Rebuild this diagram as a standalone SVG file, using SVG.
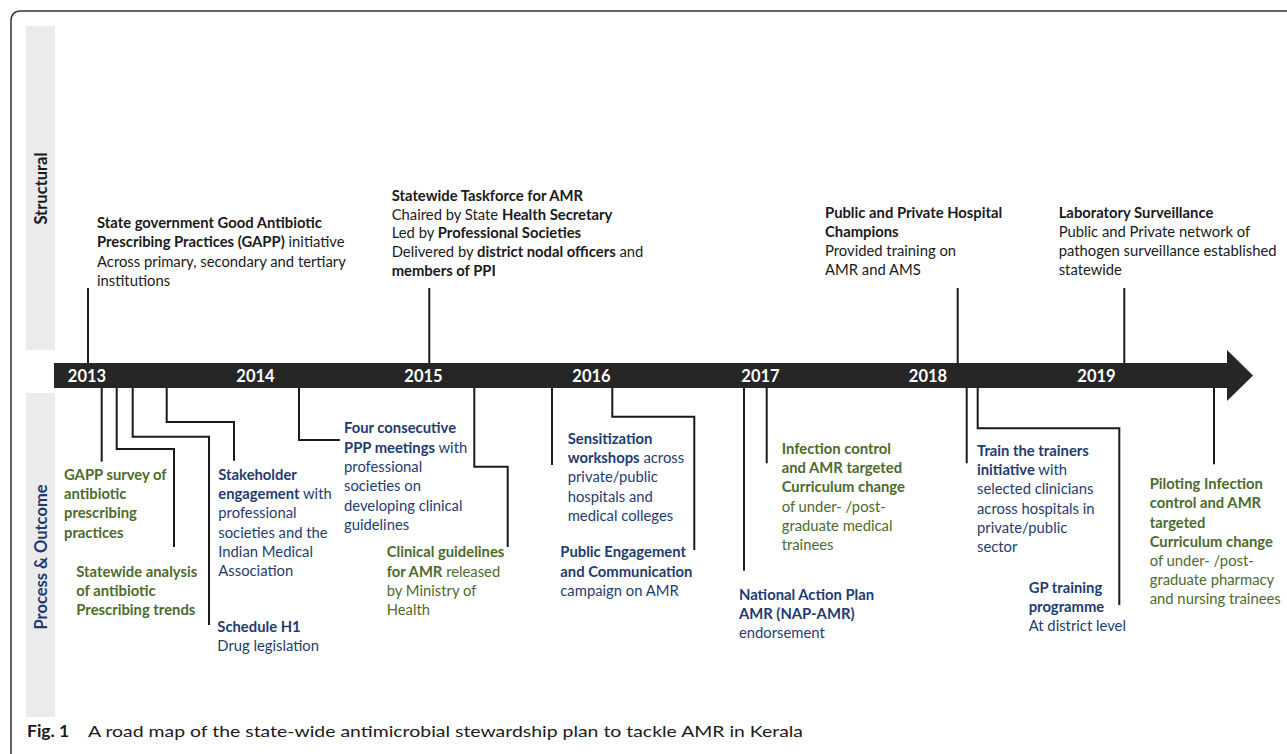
<svg xmlns="http://www.w3.org/2000/svg" width="1287" height="754" viewBox="0 0 1287 754">
<style>
text{font-family:Lato,"Liberation Sans",sans-serif;font-size:14.8px}
.k{fill:#1a1a1a}
.bl{fill:#1f3b73}
.gr{fill:#4d6b2b}
.b{font-weight:bold}
.yr{fill:#ffffff;font-weight:bold;font-size:16.5px;text-anchor:middle}
.side{font-weight:bold;font-size:16.5px;text-anchor:middle}
.conn path{fill:none;stroke:#1a1a1a;stroke-width:2}
.panel{fill:#ebebeb}
</style>
<rect width="1287" height="754" fill="#ffffff"/>
<path d="M11,754 L11,21 Q11,11 21,11 L1287,11" fill="none" stroke="#333333" stroke-width="1.5"/>
<g id="panels">
<rect class="panel" x="26" y="26" width="29" height="324"/>
<rect class="panel" x="26" y="393" width="29" height="324"/>
<text class="side k" transform="translate(46.5,188.5) rotate(-90)">Structural</text>
<text class="side bl" transform="translate(46.5,557) rotate(-90)">Process &amp; Outcome</text>
</g>
<g class="conn" id="connectors">
<path d="M88,288 V364"/>
<path d="M429.3,288 V364"/>
<path d="M957.7,288 V364"/>
<path d="M1124.3,288 V364"/>
<path d="M101.7,387 V461.7"/>
<path d="M116.7,387 V449 H174 V547"/>
<path d="M132.7,387 V436.7 H209 V625"/>
<path d="M166.7,387 V422 H234 V460.7"/>
<path d="M258,386 H299 V440 H340"/>
<path d="M474.3,387 V466.7 H507.7 V547"/>
<path d="M552,387 V465"/>
<path d="M612.3,380 V416.7 H694.3 V550"/>
<path d="M744,387 V570.7"/>
<path d="M766.7,387 V463.3"/>
<path d="M966.7,387 V463.3"/>
<path d="M977.7,387 V428.3 H1119.3 V605"/>
<path d="M1214,387 V464.3"/>
</g>
<g id="timeline">
<polygon points="54,363 1227,363 1227,350 1253,375.5 1227,401 1227,388 54,388" fill="#262626"/>
<text class="yr" x="87" y="381.5">2013</text>
<text class="yr" x="255.5" y="381.5">2014</text>
<text class="yr" x="423.5" y="381.5">2015</text>
<text class="yr" x="591.5" y="381.5">2016</text>
<text class="yr" x="760.5" y="381.5">2017</text>
<text class="yr" x="928" y="381.5">2018</text>
<text class="yr" x="1096.5" y="381.5">2019</text>
</g>
<g id="gapp-initiative">
<text class="k" x="97" y="228"><tspan class="b">State government Good Antibiotic</tspan><tspan x="97" dy="19.3" class="b">Prescribing Practices (GAPP)</tspan> initiative<tspan x="97" dy="19.3">Across primary, secondary and tertiary</tspan><tspan x="97" dy="19.3">institutions</tspan></text>
</g>
<g id="taskforce">
<text class="k" x="391.7" y="201"><tspan class="b">Statewide Taskforce for AMR</tspan><tspan x="391.7" dy="18.7">Chaired by State </tspan><tspan class="b">Health Secretary</tspan><tspan x="391.7" dy="18.7">Led by </tspan><tspan class="b">Professional Societies</tspan><tspan x="391.7" dy="18.7">Delivered by </tspan><tspan class="b">district nodal officers</tspan> and<tspan x="391.7" dy="18.7" class="b">members of PPI</tspan></text>
</g>
<g id="champions">
<text class="k" x="825" y="218"><tspan class="b">Public and Private Hospital</tspan><tspan x="825" dy="19.1" class="b">Champions</tspan><tspan x="825" dy="19.1">Provided training on</tspan><tspan x="825" dy="19.1">AMR and AMS</tspan></text>
</g>
<g id="lab-surveillance">
<text class="k" x="1058.7" y="218"><tspan class="b">Laboratory Surveillance</tspan><tspan x="1058.7" dy="19.1">Public and Private network  of</tspan><tspan x="1058.7" dy="19.1">pathogen surveillance established</tspan><tspan x="1058.7" dy="19.1">statewide</tspan></text>
</g>
<g id="gapp-survey">
<text class="gr b" x="64" y="480"><tspan>GAPP survey of</tspan><tspan x="64" dy="19.2">antibiotic</tspan><tspan x="64" dy="19.2">prescribing</tspan><tspan x="64" dy="19.2">practices</tspan></text>
</g>
<g id="statewide-analysis">
<text class="gr b" x="76.3" y="577"><tspan>Statewide analysis</tspan><tspan x="76.3" dy="19.2">of antibiotic</tspan><tspan x="76.3" dy="19.2">Prescribing trends</tspan></text>
</g>
<g id="stakeholder">
<text class="bl" x="218.3" y="480"><tspan class="b">Stakeholder</tspan><tspan x="218.3" dy="19.2" class="b">engagement</tspan> with<tspan x="218.3" dy="19.2">professional</tspan><tspan x="218.3" dy="19.2">societies and the</tspan><tspan x="218.3" dy="19.2">Indian Medical</tspan><tspan x="218.3" dy="19.2">Association</tspan></text>
</g>
<g id="schedule-h1">
<text class="bl" x="217.3" y="632"><tspan class="b">Schedule H1</tspan><tspan x="217.3" dy="19.3">Drug legislation</tspan></text>
</g>
<g id="ppp-meetings">
<text class="bl" x="344" y="433.3"><tspan class="b">Four consecutive</tspan><tspan x="344" dy="19.3" class="b">PPP meetings</tspan> with<tspan x="344" dy="19.3">professional</tspan><tspan x="344" dy="19.3">societies on</tspan><tspan x="344" dy="19.3">developing clinical</tspan><tspan x="344" dy="19.3">guidelines</tspan></text>
</g>
<g id="clinical-guidelines">
<text class="gr" x="386.7" y="557.3"><tspan class="b">Clinical guidelines</tspan><tspan x="386.7" dy="19.2" class="b">for AMR</tspan> released<tspan x="386.7" dy="19.2">by Ministry of</tspan><tspan x="386.7" dy="19.2">Health</tspan></text>
</g>
<g id="sensitization">
<text class="bl" x="567.7" y="444"><tspan class="b">Sensitization</tspan><tspan x="567.7" dy="19.2" class="b">workshops</tspan> across<tspan x="567.7" dy="19.2">private/public</tspan><tspan x="567.7" dy="19.2">hospitals and</tspan><tspan x="567.7" dy="19.2">medical colleges</tspan></text>
</g>
<g id="public-engagement">
<text class="bl" x="560.3" y="557.3"><tspan class="b">Public Engagement</tspan><tspan x="560.3" dy="19.4" class="b">and Communication</tspan><tspan x="560.3" dy="19.4">campaign on AMR</tspan></text>
</g>
<g id="infection-control">
<text class="gr" x="781.7" y="454"><tspan class="b">Infection control</tspan><tspan x="781.7" dy="19.2" class="b">and AMR targeted</tspan><tspan x="781.7" dy="19.2" class="b">Curriculum change</tspan><tspan x="781.7" dy="19.2">of under- /post-</tspan><tspan x="781.7" dy="19.2">graduate medical</tspan><tspan x="781.7" dy="19.2">trainees</tspan></text>
</g>
<g id="nap-amr">
<text class="bl" x="739" y="600"><tspan class="b">National Action Plan</tspan><tspan x="739" dy="19.2" class="b">AMR (NAP-AMR)</tspan><tspan x="739" dy="19.2">endorsement</tspan></text>
</g>
<g id="train-trainers">
<text class="bl" x="977" y="456"><tspan class="b">Train the trainers</tspan><tspan x="977" dy="19.2" class="b">initiative</tspan> with<tspan x="977" dy="19.2">selected clinicians</tspan><tspan x="977" dy="19.2">across hospitals in</tspan><tspan x="977" dy="19.2">private/public</tspan><tspan x="977" dy="19.2">sector</tspan></text>
</g>
<g id="gp-training">
<text class="bl" x="1028.7" y="593.3"><tspan class="b">GP training</tspan><tspan x="1028.7" dy="18.9" class="b">programme</tspan><tspan x="1028.7" dy="18.9">At district level</tspan></text>
</g>
<g id="piloting">
<text class="gr" x="1149.7" y="489.3"><tspan class="b">Piloting Infection</tspan><tspan x="1149.7" dy="19.1" class="b">control and AMR</tspan><tspan x="1149.7" dy="19.1" class="b">targeted</tspan><tspan x="1149.7" dy="19.1" class="b">Curriculum change</tspan><tspan x="1149.7" dy="19.1">of under- /post-</tspan><tspan x="1149.7" dy="19.1">graduate pharmacy</tspan><tspan x="1149.7" dy="19.1">and nursing trainees</tspan></text>
</g>
<g id="caption">
<text class="k b" x="27" y="737" style="font-size:17.5px">Fig. 1</text>
<text class="k" x="88" y="737" style="font-size:16px" textLength="715" lengthAdjust="spacingAndGlyphs">A road map of the state-wide antimicrobial stewardship plan to tackle AMR in Kerala</text>
</g>
</svg>
